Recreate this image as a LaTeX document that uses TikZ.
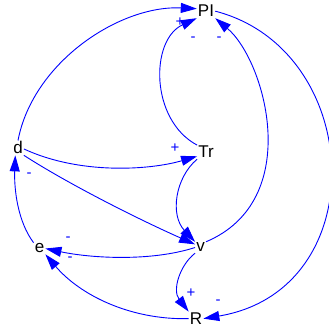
\documentclass[tikz,border=0pt]{standalone}
\usepackage{fontspec}
\setmainfont{Liberation Sans}
\usetikzlibrary{arrows.meta}
\begin{document}
\begin{tikzpicture}[x=1pt,y=-1pt,
  var/.style={inner sep=1pt,anchor=base,font=\fontsize{17}{20}\selectfont},
  link/.style={draw=blue,line width=0.9pt,-{Triangle[length=16pt,width=10pt]},fill=none},
  sign/.style={text=blue,inner sep=0pt,font=\fontsize{15}{17}\selectfont}]
\useasboundingbox (0,0) rectangle (329,328);
\node[var] (PI) at (206,17) {PI};
\node[var] (Tr) at (206,158) {Tr};
\node[var] (d) at (18,154) {d};
\node[var] (v) at (200.5,252) {v};
\node[var] (e) at (39.5,253) {e};
\node[var] (R) at (196,324.5) {R};
% edges
\draw[link] (d.north) .. controls (33,62) and (120,5) .. (PI.165);
\draw[link] (Tr.north west) .. controls (150,120) and (150,40) .. (PI.south west);
\draw[link] (v.north east) .. controls (305,200) and (265,60) .. (PI.south east);
\draw[link] (PI.east) .. controls (365,50) and (375,290) .. (R.east);
\draw[link] (d.-10) .. controls (80,175) and (150,170) .. (Tr.205);
\draw[link] (d.south east) .. controls (70,185) and (140,220) .. (v.150);
\draw[link] (Tr.south west) .. controls (175,178) and (170,215) .. (v.north west);
\draw[link] (v.west) .. controls (150,262) and (90,258) .. (e.east);
\draw[link] (R.west) .. controls (130,320) and (80,295) .. (e.south east);
\draw[link] (v.south west) .. controls (180,265) and (172,290) .. (R.north west);
\draw[link] (e.north west) .. controls (18,222) and (14,190) .. (d.250);
% signs
\node[sign] (s1) at (180,22) {+};
\node[sign] (s2) at (193,39) {-};
\node[sign] (s3) at (219,39) {-};
\node[sign] (s4) at (175,148) {+};
\node[sign] (s5) at (29,175) {-};
\node[sign] (s6) at (68,239) {-};
\node[sign] (s7) at (70,259) {-};
\node[sign] (s8) at (191,293) {+};
\node[sign] (s9) at (218,302) {-};
\end{tikzpicture}
\end{document}
